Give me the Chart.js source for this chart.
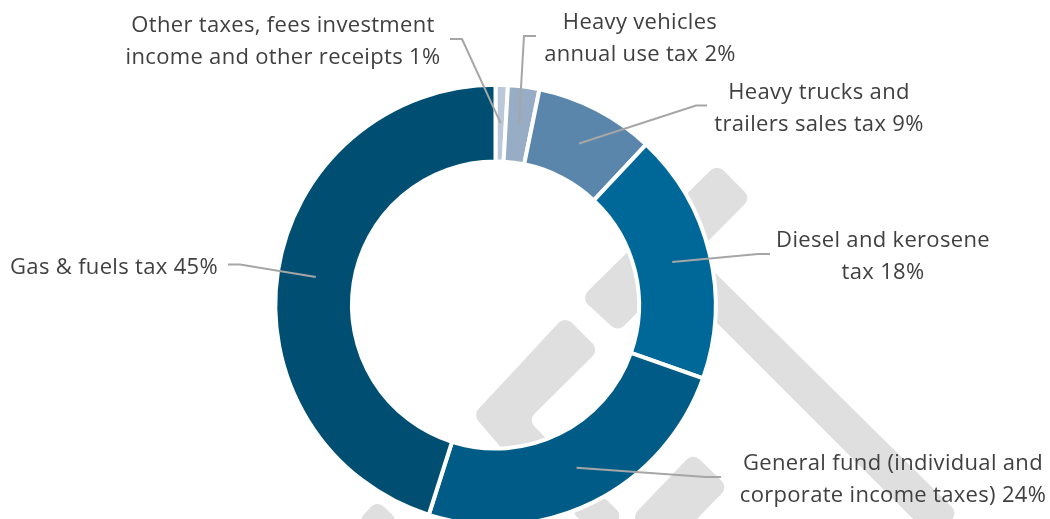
<!DOCTYPE html>
<html>
<head>
<meta charset="utf-8">
<style>
  html, body { margin: 0; padding: 0; background: #fff; overflow: hidden; }
  canvas { display: block; }
</style>
<script src="https://cdn.jsdelivr.net/npm/chart.js@4"></script>
</head>
<body>
<canvas id="chart" width="1050" height="519"></canvas>
<script>
const categories = [
  "Other taxes, fees investment income and other receipts",
  "Heavy vehicles annual use tax",
  "Heavy trucks and trailers sales tax",
  "Diesel and kerosene tax",
  "General fund (individual and corporate income taxes)",
  "Gas & fuels tax"
];
const shares = [0.9, 2.3, 8.8, 18.4, 24.5, 45.1];
const sliceColors = ["#bac8d9", "#97adc5", "#5b86ac", "#006899", "#005c87", "#004f73"];

// label text, one entry per line
const labelLines = [
  ["Other taxes, fees investment", "income and other receipts 1%"],
  ["Heavy vehicles", "annual use tax 2%"],
  ["Heavy trucks and", "trailers sales tax 9%"],
  ["Diesel and kerosene", "tax 18%"],
  ["General fund (individual and", "corporate income taxes) 24%"],
  ["Gas & fuels tax 45%"]
];
// where each label sits, and the leader's elbow and end
const labelPlaces = [
  { x: 283, y: 26, elbow: [462, 39], end: [450, 39] },
  { x: 640, y: 23, elbow: [524, 36], end: [536, 36] },
  { x: 819, y: 93, elbow: [696, 105.5], end: [707, 105.5] },
  { x: 883, y: 241, elbow: [758, 254], end: [770, 254] },
  { x: 893, y: 464, elbow: [706, 477], end: [721, 477] },
  { x: 114, y: 268, elbow: [240, 264.5], end: [228, 264.5] }
];

// grey watermark behind the ring
const watermark = [
  [[565, 316], [599, 350], [528, 420], [560, 452], [510, 458], [473, 415]],
  [[717, 164], [751, 198], [618, 332], [581, 298]],
  [[680, 238], [957, 512], [945, 530], [913, 519], [680, 286]],
  [[693, 453], [728, 487], [690, 526], [623, 526]],
  [[560, 505], [605, 498], [632, 525], [588, 525]],
  [[377, 500], [408, 530], [350, 530]]
];

function roundedShape(ctx, pts, r) {
  ctx.beginPath();
  const n = pts.length;
  const a = pts[n - 1], b = pts[0];
  ctx.moveTo((a[0] + b[0]) / 2, (a[1] + b[1]) / 2);
  for (let i = 0; i < n; i++) {
    const p = pts[i], q = pts[(i + 1) % n];
    ctx.arcTo(p[0], p[1], (p[0] + q[0]) / 2, (p[1] + q[1]) / 2, r);
  }
  ctx.closePath();
}

const watermarkPlugin = {
  id: "watermark",
  beforeDatasetsDraw(chart) {
    const ctx = chart.ctx;
    ctx.save();
    ctx.fillStyle = "#dfdfdf";
    watermark.forEach(pts => {
      roundedShape(ctx, pts, 9);
      ctx.fill();
    });
    ctx.restore();
  }
};

const labelPlugin = {
  id: "sliceLabels",
  afterDatasetsDraw(chart) {
    const ctx = chart.ctx;
    const arcs = chart.getDatasetMeta(0).data;
    ctx.save();
    ctx.strokeStyle = "#a6a6a6";
    ctx.lineWidth = 2;
    arcs.forEach((arc, i) => {
      const place = labelPlaces[i];
      const start = arc.getCenterPoint();
      ctx.beginPath();
      ctx.moveTo(start.x, start.y);
      ctx.lineTo(place.elbow[0], place.elbow[1]);
      ctx.lineTo(place.end[0], place.end[1]);
      ctx.stroke();
    });
    ctx.fillStyle = "#404040";
    ctx.font = '22px "Open Sans"';
    ctx.letterSpacing = "0.32px";
    ctx.textAlign = "center";
    ctx.textBaseline = "middle";
    labelLines.forEach((lines, i) => {
      lines.forEach((line, j) => {
        ctx.fillText(line, labelPlaces[i].x, labelPlaces[i].y + j * 32);
      });
    });
    ctx.restore();
  }
};

new Chart(document.getElementById("chart"), {
  type: "doughnut",
  data: {
    labels: categories,
    datasets: [{
      data: shares,
      backgroundColor: sliceColors,
      borderColor: "#ffffff",
      borderWidth: 4
    }]
  },
  options: {
    responsive: false,
    animation: false,
    radius: 220.2,
    cutout: "65.2%",
    layout: { padding: { top: 91, right: 59, left: 0, bottom: 0 } },
    plugins: {
      legend: { display: false },
      tooltip: { enabled: false }
    }
  },
  plugins: [watermarkPlugin, labelPlugin]
});
</script>
</body>
</html>
